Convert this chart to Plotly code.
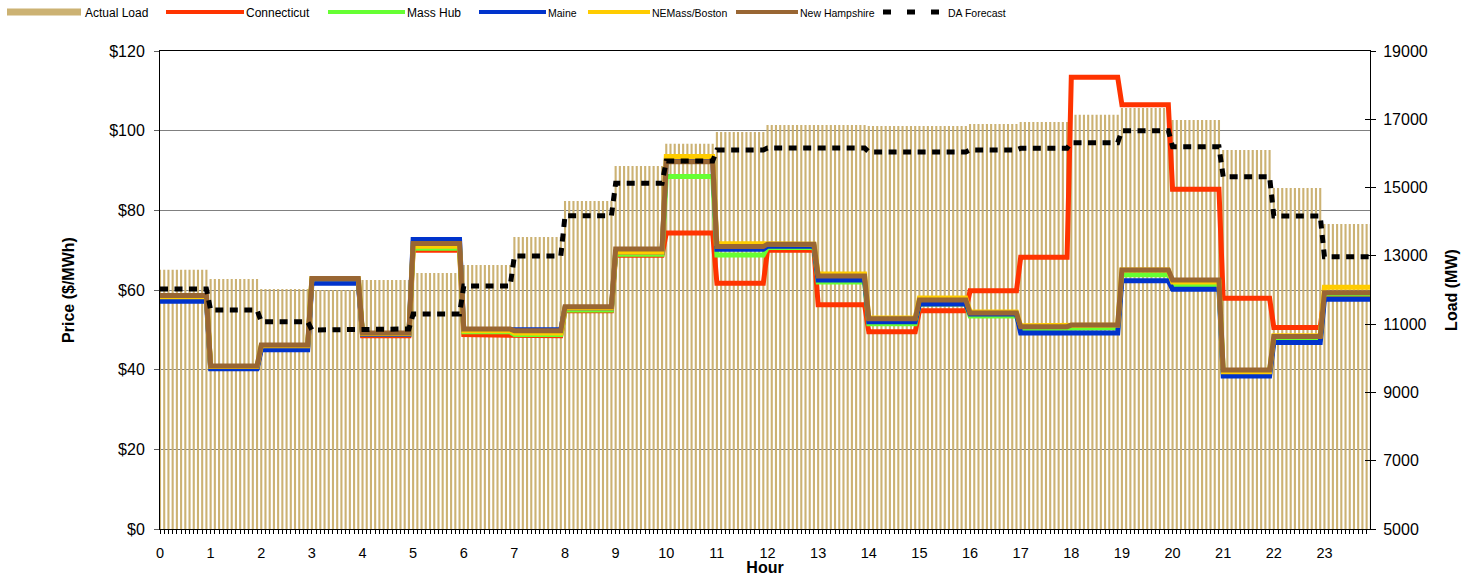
import numpy as np
import plotly.graph_objects as go

hours = list(range(24))
tick_labels = [str(h) for h in hours]
steps_per_hour = 12

actual_load = [12590, 12320, 12030, 12000, 12290, 12500, 12730, 13550, 14610, 15630, 16280, 16630,
               16830, 16830, 16800, 16800, 16860, 16920, 17130, 17330, 16980, 16100, 14990, 13930]
da_forecast = [12030, 11415, 11072, 10829, 10858, 11297, 12117, 12996, 14177, 15125, 15779, 16101,
               16160, 16160, 16043, 16043, 16101, 16150, 16315, 16666, 16198, 15319, 14168, 12976]
connecticut = [58.0, 40.5, 45.5, 62.2, 48.5, 70.0, 48.8, 48.5, 54.8, 68.7, 74.3, 61.7,
               70.0, 56.3, 49.5, 54.8, 59.8, 68.2, 113.4, 106.5, 85.3, 57.9, 50.6, 58.7]
mass_hub = [58.0, 40.6, 45.8, 62.5, 48.9, 70.5, 49.5, 48.8, 55.0, 69.0, 88.5, 68.8,
            70.7, 62.0, 51.5, 56.5, 53.5, 50.3, 50.5, 63.8, 61.2, 39.6, 47.7, 59.0]
maine = [57.2, 40.2, 45.0, 61.7, 48.8, 72.7, 50.0, 50.1, 55.5, 69.5, 92.5, 70.2,
         71.0, 62.5, 52.0, 56.5, 54.0, 49.2, 49.2, 62.3, 60.2, 38.4, 46.8, 57.7]
nemass_boston = [58.3, 40.8, 46.0, 62.8, 49.0, 71.0, 49.8, 49.2, 55.5, 69.5, 93.5, 71.7,
                 71.5, 64.0, 53.0, 58.0, 54.5, 51.0, 51.2, 65.0, 62.0, 39.5, 48.5, 60.7]
new_hampshire = [58.6, 40.9, 46.2, 62.9, 49.2, 71.7, 50.2, 49.8, 55.8, 70.3, 92.2, 70.9,
                 71.5, 63.5, 52.8, 57.5, 54.2, 50.8, 51.2, 65.0, 62.5, 39.9, 48.3, 59.3]

price_ticks = [0, 20, 40, 60, 80, 100, 120]
price_tick_text = ['$0', '$20', '$40', '$60', '$80', '$100', '$120']
load_ticks = [5000, 7000, 9000, 11000, 13000, 15000, 17000, 19000]
load_tick_text = ['5000', '7000', '9000', '11000', '13000', '15000', '17000', '19000']

TAN = '#CCB273'
FONT = 'Liberation Sans, Arial, sans-serif'
W, H = 1473, 576
ML, MR, MT, MB = 160, 103, 51, 47

n = len(hours) * steps_per_hour
x5 = np.arange(n) / steps_per_hour


def expand(v):
    return np.repeat(np.asarray(v, dtype=float), steps_per_hour)


fig = go.Figure()
fig.add_trace(go.Bar(x=x5, y=expand(actual_load), marker=dict(color=TAN, line=dict(width=0)),
                     yaxis='y', name='Actual Load'))

series = [('Connecticut', connecticut, '#FF3300'),
          ('Mass Hub', mass_hub, '#66FF33'),
          ('Maine', maine, '#0033CC'),
          ('NEMass/Boston', nemass_boston, '#FFCC00'),
          ('New Hampshire', new_hampshire, '#996633')]
for nm, vals, col in series:
    fig.add_trace(go.Scatter(x=x5, y=expand(vals), mode='lines', name=nm,
                             line=dict(color=col, width=5), yaxis='y2'))

fig.add_trace(go.Scatter(x=x5, y=expand(da_forecast), mode='lines', name='DA Forecast',
                         line=dict(color='black', width=5, dash='8px,6.5px'), yaxis='y3'))

# ---- legend drawn across the top (Excel style: long swatches, text right after) ----
pw, ph = W - ML - MR, H - MT - MB


def pxx(px):
    return (px - ML) / pw


def pxy(py):
    return (H - MB - py) / ph


legend_items = [
    # name, colour, swatch x0, swatch x1, swatch width, dash, text x, font size
    ('Actual Load', TAN, 7, 81, 7, 'solid', 84, 12),
    ('Connecticut', '#FF3300', 166, 244, 4, 'solid', 245, 12),
    ('Mass Hub', '#66FF33', 328, 405, 4, 'solid', 406, 12),
    ('Maine', '#0033CC', 479, 546, 4, 'solid', 547, 10.5),
    ('NEMass/Boston', '#FFCC00', 588, 650, 4, 'solid', 651, 10.5),
    ('New Hampshire', '#996633', 736, 798, 4, 'solid', 799, 10.5),
    ('DA Forecast', 'black', 883, 941, 5, '8px,16px', 947, 10.5),
]
shapes, annotations = [], []
for nm, col, x0, x1, lw, dash, tx, fs in legend_items:
    shapes.append(dict(type='line', xref='paper', yref='paper', x0=pxx(x0), x1=pxx(x1),
                       y0=pxy(12), y1=pxy(12), line=dict(color=col, width=lw, dash=dash)))
    annotations.append(dict(text=nm, xref='paper', yref='paper', x=pxx(tx - 1), y=pxy(13),
                            xanchor='left', yanchor='middle', showarrow=False,
                            font=dict(family=FONT, size=fs, color='black')))

fig.update_layout(
    template='none',
    width=W, height=H,
    margin=dict(l=ML, r=MR, t=MT, b=MB, autoexpand=False),
    paper_bgcolor='white', plot_bgcolor='white',
    font=dict(family=FONT, size=16, color='black'),
    bargap=0.5,
    showlegend=False,
    shapes=shapes,
    annotations=annotations,
    xaxis=dict(range=[0, 23.9], tickvals=hours, ticktext=tick_labels, ticks='outside', ticklen=4,
               tickcolor='black', showline=True, linecolor='black', linewidth=1, mirror=True,
               showgrid=False, zeroline=False, tickfont=dict(size=14.5), ticklabelstandoff=7,
               minor=dict(tickvals=list(x5), ticks='outside', ticklen=4, tickcolor='black'),
               title=dict(text='<b>Hour</b>', font=dict(size=16), standoff=3), automargin=False),
    yaxis=dict(range=[5000, 19000], side='right', tickvals=load_ticks, ticktext=load_tick_text,
               ticks='outside', ticklen=5, tickcolor='black', showline=True, linecolor='black',
               linewidth=1, showgrid=False, zeroline=False, tickfont=dict(size=16),
               ticklabelstandoff=4, automargin=False,
               title=dict(text='<b>Load (MW)</b>', font=dict(size=16), standoff=19)),
    yaxis2=dict(range=[0, 120], overlaying='y', side='left', tickvals=price_ticks,
                ticktext=price_tick_text, ticks='outside', ticklen=5, tickcolor='#606060',
                showline=True, linecolor='black', linewidth=1, showgrid=True, gridcolor='#808080',
                gridwidth=1, zeroline=False, tickfont=dict(size=16), ticklabelstandoff=6,
                automargin=False,
                title=dict(text='<b>Price ($/MWh)</b>', font=dict(size=16), standoff=30)),
    yaxis3=dict(range=[5000, 19000], overlaying='y', side='right', tickvals=load_ticks,
                ticks='inside', ticklen=5, tickcolor='black', showticklabels=False, showline=False,
                showgrid=False, zeroline=False, automargin=False),
)

fig.write_html('out.html', config={'displayModeBar': False},
               post_script="document.body.style.margin='0px';")
